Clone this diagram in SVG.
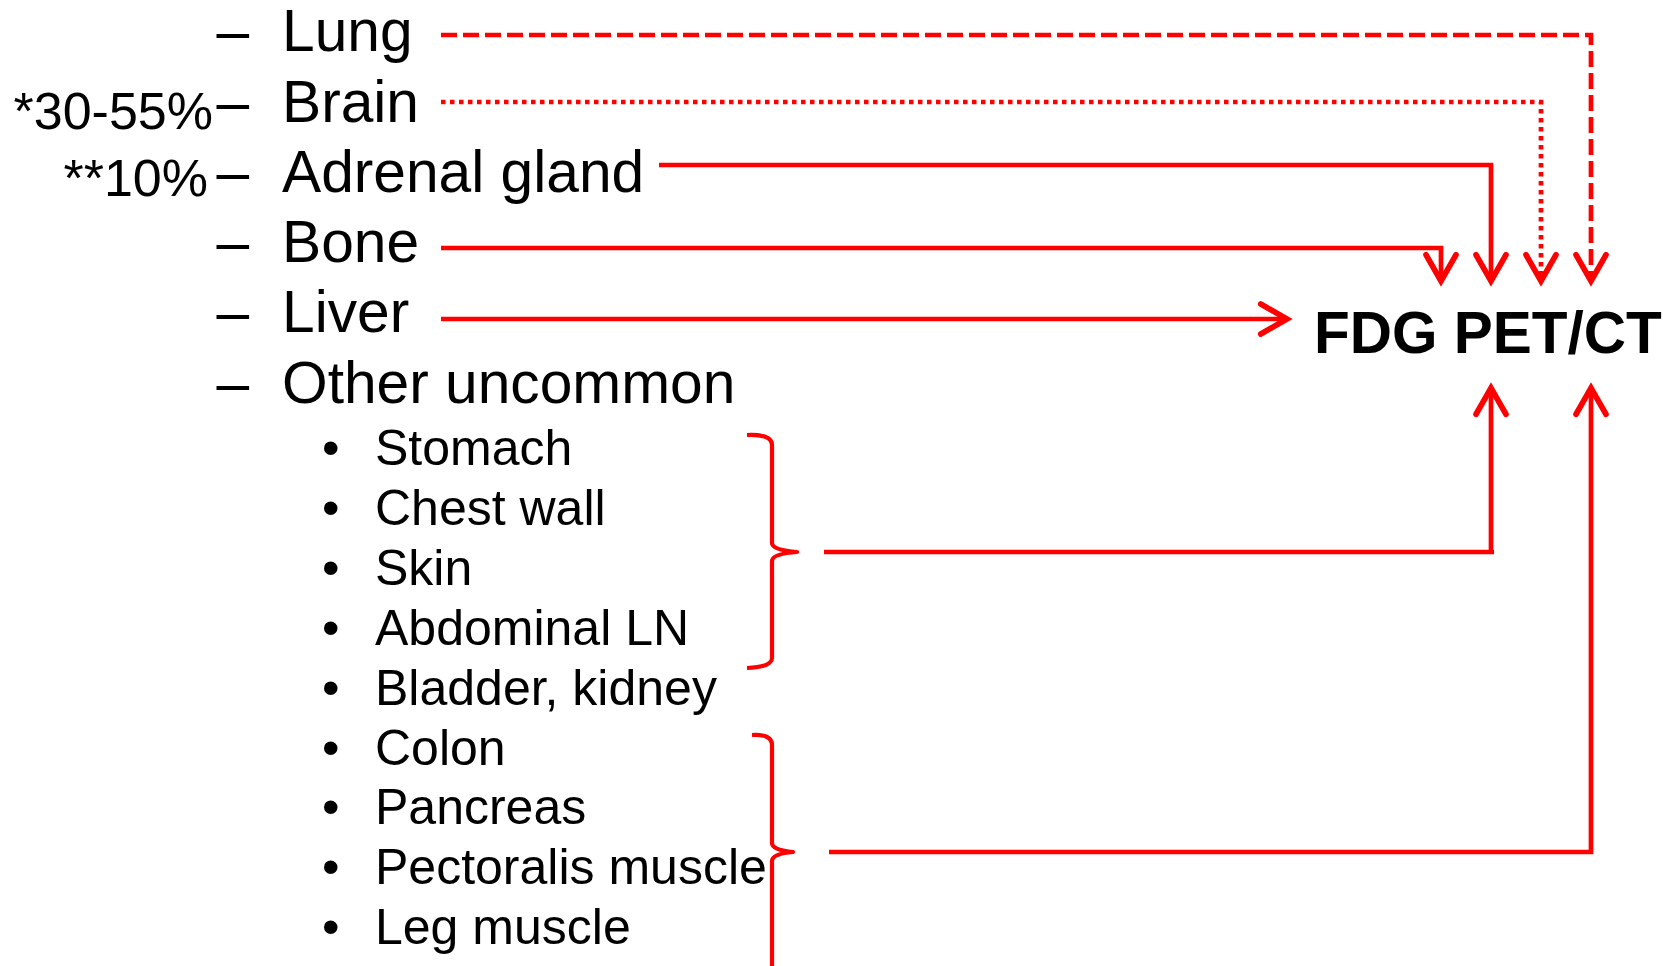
<svg xmlns="http://www.w3.org/2000/svg" width="1663" height="966" viewBox="0 0 1663 966">
<style>
.main{font-family:"Liberation Sans",Arial,sans-serif;font-size:58.7px;fill:#000}
.note{font-family:"Liberation Sans",Arial,sans-serif;font-size:52px;fill:#000;text-anchor:end}
.sub{font-family:"Liberation Sans",Arial,sans-serif;font-size:50px;fill:#000}
.title{font-family:"Liberation Sans",Arial,sans-serif;font-size:58.5px;font-weight:bold;fill:#000}
.ln{fill:none;stroke:#ff0000;stroke-width:4.7}
.dash{stroke-dasharray:16 6}
.dot{stroke-dasharray:4.5 4.5}
.brace{fill:none;stroke:#ff0000;stroke-width:4.2;stroke-linejoin:round}
</style>
<defs>
<marker id="arr" markerUnits="userSpaceOnUse" markerWidth="40" markerHeight="40" refX="0" refY="0" viewBox="-26 -16 30 32" orient="auto" overflow="visible">
<path d="M-21,-12 L0,0 L-21,12" fill="none" stroke="#ff0000" stroke-width="4.5" stroke-linecap="round" stroke-linejoin="miter"/>
</marker>
</defs>
<rect width="1663" height="966" fill="#fff"/>

<g id="lung"><text class="main" x="216.5" y="51">–</text><text class="main" x="282" y="51">Lung</text></g>
<g id="brain"><text class="note" x="213" y="129">*30-55%</text><text class="main" x="216.5" y="121.5">–</text><text class="main" x="282" y="121.5">Brain</text></g>
<g id="adrenal"><text class="note" x="208" y="196">**10%</text><text class="main" x="216.5" y="192">–</text><text class="main" x="282" y="192">Adrenal gland</text></g>
<g id="bone"><text class="main" x="216.5" y="262">–</text><text class="main" x="282" y="262">Bone</text></g>
<g id="liver"><text class="main" x="216.5" y="332">–</text><text class="main" x="282" y="332">Liver</text></g>
<g id="other"><text class="main" x="216.5" y="403">–</text><text class="main" x="282" y="403">Other uncommon</text></g>

<g id="subitems">
<text class="sub" x="322" y="465">•</text><text class="sub" x="375" y="465">Stomach</text>
<text class="sub" x="322" y="525">•</text><text class="sub" x="375" y="525">Chest wall</text>
<text class="sub" x="322" y="585">•</text><text class="sub" x="375" y="585">Skin</text>
<text class="sub" x="322" y="645">•</text><text class="sub" x="375" y="645">Abdominal LN</text>
<text class="sub" x="322" y="704.5">•</text><text class="sub" x="375" y="704.5">Bladder, kidney</text>
<text class="sub" x="322" y="764.5">•</text><text class="sub" x="375" y="764.5">Colon</text>
<text class="sub" x="322" y="824">•</text><text class="sub" x="375" y="824">Pancreas</text>
<text class="sub" x="322" y="884">•</text><text class="sub" x="375" y="884">Pectoralis muscle</text>
<text class="sub" x="322" y="944">•</text><text class="sub" x="375" y="944">Leg muscle</text>
</g>

<g id="fdg"><text class="title" x="1314" y="353">FDG PET/CT</text></g>

<g id="braces">
<path class="brace" d="M747,435 Q772,434 772,445 L772,543 Q772,550 797,552 Q772,554 772,561 L772,658 Q772,667 747,668"/>
<path class="brace" d="M752,735 Q772,734 772,745 L772,843 Q772,850 793,852 Q772,854 772,861 L772,980"/>
</g>

<g id="connectors">
<path class="ln dash" d="M441,35 H1591 V281" marker-end="url(#arr)"/>
<path class="ln dot" d="M441,102 H1541 V281" marker-end="url(#arr)"/>
<path class="ln" d="M659,165 H1491 V281" marker-end="url(#arr)"/>
<path class="ln" d="M441,248 H1441 V281" marker-end="url(#arr)"/>
<path class="ln" d="M441,319 H1287" marker-end="url(#arr)"/>
<path class="ln" d="M824,552 H1494 M1491,552 V388" marker-end="url(#arr)"/>
<path class="ln" d="M829,852 H1591 V388" marker-end="url(#arr)"/>
</g>
</svg>
